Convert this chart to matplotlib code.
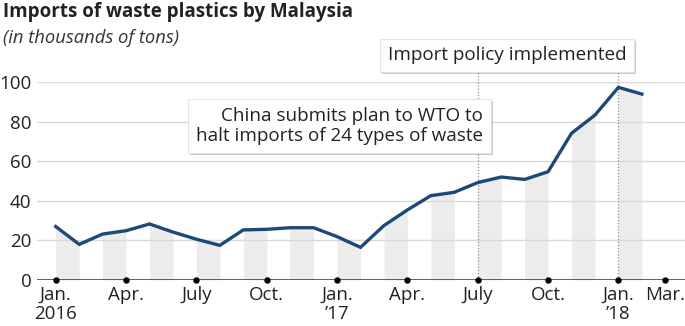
import matplotlib
matplotlib.use("Agg")
import matplotlib.pyplot as plt
import matplotlib.patheffects as pe
import numpy as np

# ---- data ----
months = ["2016-01", "2016-02", "2016-03", "2016-04", "2016-05", "2016-06",
          "2016-07", "2016-08", "2016-09", "2016-10", "2016-11", "2016-12",
          "2017-01", "2017-02", "2017-03", "2017-04", "2017-05", "2017-06",
          "2017-07", "2017-08", "2017-09", "2017-10", "2017-11", "2017-12",
          "2018-01", "2018-02"]
imports = [27.0, 18.0, 23.2, 24.9, 28.3, 24.2, 20.6, 17.5, 25.3, 25.6, 26.4, 26.4,
           21.9, 16.5, 27.5, 35.4, 42.6, 44.3, 49.2, 52.0, 50.8, 54.7, 74.1, 83.3,
           97.3, 93.9]
tick_pos = [0, 3, 6, 9, 12, 15, 18, 21, 24, 26]
tick_labels = ["Jan.\n2016", "Apr.", "July", "Oct.", "Jan.\n\u201917", "Apr.",
               "July", "Oct.", "Jan.\n\u201918", "Mar."]
yticks = [0, 20, 40, 60, 80, 100]
event_idx = [18, 24]
event_text = ["China submits plan to WTO to\nhalt imports of 24 types of waste",
              "Import policy implemented"]

title = "Imports of waste plastics by Malaysia"
subtitle = "(in thousands of tons)"

plt.rcParams['font.family'] = ['Open Sans', 'DejaVu Sans']

W, H = 685, 326
fig = plt.figure(figsize=(W / 100, H / 100), dpi=100)
ax = fig.add_axes([37 / W, (H - 280) / H, 1 - 37 / W, 198 / H])

x = np.arange(len(imports))
y = np.array(imports)

# alternating shaded month bands under the line
for i in range(0, len(x) - 1, 2):
    ax.fill_between(x[i:i + 2], 0, y[i:i + 2], color="#ececec", lw=0, zorder=1)

# gridlines
for t in yticks[1:]:
    ax.axhline(t, color="#d9d9d9", lw=1, zorder=2)

# event lines
for e in event_idx:
    ax.plot([x[e], x[e]], [0, 105], color="#8a8a8a", lw=0.9, ls=(0, (1, 1.5)),
            zorder=2, clip_on=False)

ax.plot(x, y, color="#1c4978", lw=2.4, zorder=4, solid_joinstyle="miter",
        clip_on=False)

ax.axhline(0, color="#444444", lw=1.2, zorder=5)
ax.plot(tick_pos, np.zeros(len(tick_pos)), "o", color="black", ms=3.6,
        zorder=6, clip_on=False)

ax.set_xlim(-0.8, 26.84)
ax.set_ylim(0, 100)
for s in ax.spines.values():
    s.set_visible(False)
ax.set_yticks(yticks)
ax.set_yticklabels([str(v) for v in yticks])
ax.set_xticks(tick_pos)
ax.set_xticklabels(tick_labels, linespacing=1.08)
ax.tick_params(axis="y", length=0, pad=4, labelsize=13.5, labelcolor="#222222")
ax.tick_params(axis="x", length=0, pad=4.5, labelsize=13.5, labelcolor="#222222")

shadow = [pe.withSimplePatchShadow(offset=(1.5, -1.5), shadow_rgbFace="#888888",
                                   alpha=0.45)]
t1 = ax.text(18.22, 77.8, event_text[0], ha="right", va="center", fontsize=13.6,
             color="#222222", linespacing=1.15, zorder=7,
             bbox=dict(boxstyle="square,pad=0.42", fc="white", ec="#e2e2e2", lw=0.8))
t1.get_bbox_patch().set_path_effects(shadow)
t2 = ax.text(19.25, 113.4, event_text[1], ha="center", va="center", fontsize=13.6,
             color="#222222", zorder=7, clip_on=False,
             bbox=dict(boxstyle="square,pad=0.4", fc="white", ec="#e2e2e2", lw=0.8))
t2.get_bbox_patch().set_path_effects(shadow)

fig.text(3 / W, 1 - 2 / H, title, ha="left", va="top", fontsize=13.5,
         fontweight="bold", color="#222222")
fig.text(3 / W, 1 - 29 / H, subtitle, ha="left", va="top", fontsize=13.2,
         style="italic", color="#333333")

fig.savefig("out.png", dpi=100)
